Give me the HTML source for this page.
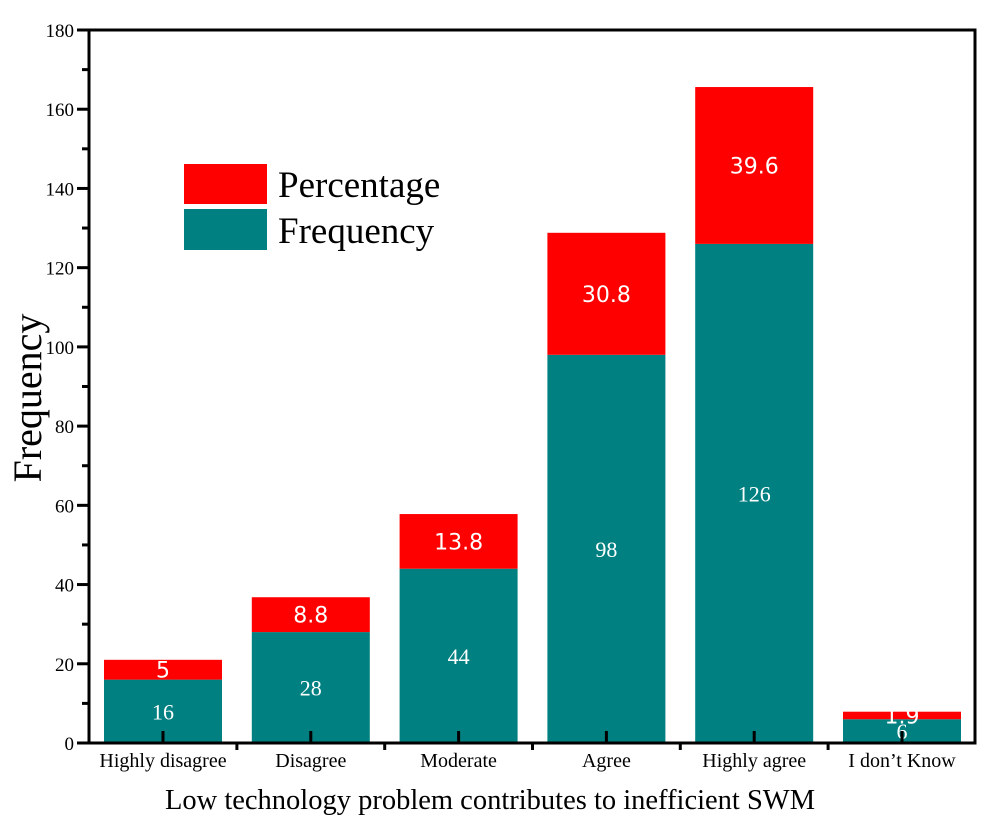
<!DOCTYPE html>
<html><head><meta charset="utf-8"><style>
body{margin:0;background:#fff;}
svg text{font-family:"Liberation Serif",serif;}
</style></head><body>
<svg id="chart" width="1002" height="825"></svg>
<script>
const categories=["Highly disagree","Disagree","Moderate","Agree","Highly agree","I don\u2019t Know"];
const frequency=[16,28,44,98,126,6];
const percentage=[5,8.8,13.8,30.8,39.6,1.9];
const yTicks=[0,20,40,60,80,100,120,140,160,180];
const NS="http://www.w3.org/2000/svg";
const svg=document.getElementById('chart');
const L=89,R=975,T=30,B=743,yMax=180;
const y=v=>B-v/yMax*(B-T);
const step=147.8, c0=163, bw=118;
const x=i=>c0+i*step;
function el(t,a,txt){const e=document.createElementNS(NS,t);for(const k in a)e.setAttribute(k,a[k]);if(txt!==undefined)e.textContent=txt;svg.appendChild(e);return e;}
categories.forEach((c,i)=>{
  const f=el('rect',{x:x(i)-bw/2,y:y(frequency[i]),width:bw,height:y(0)-y(frequency[i]),fill:'#008080'});
  
  
  const p=el('rect',{x:x(i)-bw/2,y:y(frequency[i]+percentage[i]),width:bw,height:y(0)-y(percentage[i]),fill:'#ff0000'});
  
  
  const fl=el('text',{x:x(i),y:(y(frequency[i])+y(0))/2+8,'text-anchor':'middle','font-size':22,fill:'#fff'},String(frequency[i]));
  
  
  const pl=el('text',{x:x(i),y:(y(frequency[i])+y(frequency[i]+percentage[i]))/2+8,'text-anchor':'middle','font-size':22,fill:'#fff',style:'font-family:"DejaVu Sans",sans-serif'},String(percentage[i]));
  
  
  const tk=el('line',{x1:x(i),x2:x(i),y1:B,y2:B-12,stroke:'#000','stroke-width':3});
  
  
  const xl=el('text',{x:x(i),y:767,'text-anchor':'middle','font-size':20,fill:'#000'},c);
  
  
  if(i<categories.length-1){
    const m=el('line',{x1:x(i)+step/2,x2:x(i)+step/2,y1:B,y2:B+7,stroke:'#000','stroke-width':3});
    
    
  }
});
yTicks.forEach((v,i)=>{
  const t=el('line',{x1:L-12,x2:L,y1:y(v),y2:y(v),stroke:'#000','stroke-width':3});
  
  
  const tl=el('text',{x:L-15,y:y(v)+7,'text-anchor':'end','font-size':19,fill:'#000'},String(v));
  
  
  if(i<yTicks.length-1){
    const m=el('line',{x1:L-7,x2:L,y1:y(v+10),y2:y(v+10),stroke:'#000','stroke-width':3});
    
    
  }
});
const frame=el('rect',{x:L,y:T,width:R-L,height:B-T,fill:'none',stroke:'#000','stroke-width':3});


const xt=el('text',{x:490,y:809,'text-anchor':'middle','font-size':28.5,fill:'#000'},'Low technology problem contributes to inefficient SWM');


const yt=el('text',{x:0,y:0,'text-anchor':'middle','font-size':40,fill:'#000',transform:'translate(41,398) rotate(-90)'},'Frequency');


const l1=el('rect',{x:184,y:164,width:83,height:40,fill:'#ff0000'});


const l2=el('rect',{x:184,y:209,width:83,height:41,fill:'#008080'});


const t1=el('text',{x:278,y:197,'font-size':37,fill:'#000'},'Percentage');


const t2=el('text',{x:278,y:243,'font-size':37,fill:'#000'},'Frequency');


</script>
</body></html>
